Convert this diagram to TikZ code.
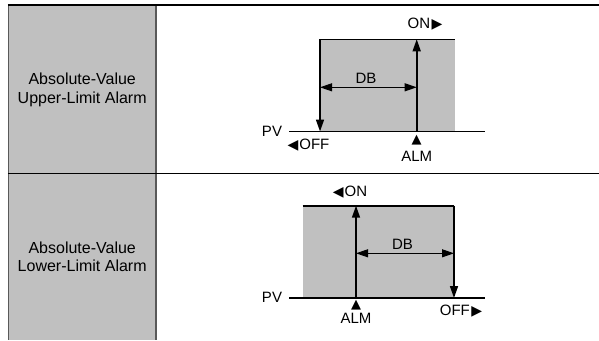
\documentclass[tikz,border=0pt]{standalone}
\usepackage{fontspec}
\setmainfont{Liberation Sans}
\newfontfamily\symf{DejaVu Sans}
\usetikzlibrary{arrows.meta}
\tikzset{
  lbl/.style={inner sep=0pt, font=\fontsize{15}{17}\selectfont},
  rowlbl/.style={inner sep=0pt, align=center, font=\fontsize{16}{18.6}\selectfont},
  tri/.style={inner sep=0pt, font=\symf\fontsize{13}{14}\selectfont},
  arr/.style={line width=1.6pt, -{Triangle[length=12pt,width=8pt]}},
  darr/.style={line width=1pt, {Triangle[length=12pt,width=8pt]}-{Triangle[length=12pt,width=8pt]}},
  pvline/.style={line width=1.6pt},
  tline/.style={line width=1.6pt, black},
}
\definecolor{cgray}{HTML}{C0C0C0}
\newcommand{\tr}{{\symf\fontsize{14}{15}\selectfont\char"25B6}}
\newcommand{\tl}{{\symf\fontsize{14}{15}\selectfont\char"25C0}}
\begin{document}
\begin{tikzpicture}[x=1pt,y=-1pt]
\useasboundingbox (0,0) rectangle (599,340);
% table
\fill[cgray] (8.5,5) rectangle (156,340);
\draw[line width=1.4pt, black!65] (8.5,5) -- (8.5,340);
\draw[line width=1.4pt, black!65] (156,5) -- (156,340);
\draw[tline] (7.8,5) -- (599,5);
\draw[tline] (7.8,173.5) -- (599,173.5);
\node[rowlbl] (r1) at (82.2,90) {Absolute-Value\\Upper-Limit Alarm};
\node[rowlbl] (r2) at (82.2,256.7) {Absolute-Value\\Lower-Limit Alarm};

% ---------- upper diagram ----------
\fill[cgray] (320,39.3) rectangle (455,131.5);
\coordinate (uTL) at (320,39.3);
\coordinate (uTR) at (455,39.3);
\coordinate (uBL) at (320,131.5);
\coordinate (uPVs) at (289,131.5);
\coordinate (uPVe) at (485,131.5);
\coordinate (uAb) at (416.7,131.5);
\coordinate (uAt) at (416.7,39.3);
\coordinate (uDBl) at (320,87.3);
\coordinate (uDBr) at (416.7,87.3);
\draw[tline] (uTL) -- (uTR);
\draw[pvline] (uPVs) -- (uPVe);
\draw[arr] (uAb) -- (uAt);
\draw[arr] (uTL) -- (uBL);
\draw[darr] (uDBl) -- (uDBr);
\node[lbl] (uDB) at (366,78) {DB};
\node[lbl] (uON) at (425,24) {ON\kern1.5pt\tr};
\node[lbl] (uOFF) at (308.5,145) {\tl\kern1pt OFF};
\node[lbl] (uPV) at (272,131) {PV};
\node[tri] (uTri) at (416.7,140) {\char"25B2};
\node[lbl] (uALM) at (416.7,156.5) {ALM};

% ---------- lower diagram ----------
\fill[cgray] (303.3,205.7) rectangle (454,298);
\coordinate (lTL) at (302.5,205.7);
\coordinate (lTR) at (454,205.7);
\coordinate (lBR) at (454,298);
\coordinate (lPVs) at (289,298);
\coordinate (lPVe) at (485,298);
\coordinate (lAb) at (356,298);
\coordinate (lAt) at (356,205.7);
\coordinate (lDBl) at (356,253.3);
\coordinate (lDBr) at (454,253.3);
\draw[tline] (lTL) -- (lTR);
\draw[pvline] (lPVs) -- (lPVe);
\draw[arr] (lAb) -- (lAt);
\draw[arr] (lTR) -- (lBR);
\draw[darr] (lDBl) -- (lDBr);
\node[lbl] (lDB) at (402.5,244) {DB};
\node[lbl] (lON) at (350,191.7) {\tl\kern1pt ON};
\node[lbl] (lOFF) at (461,310.7) {OFF\kern1.5pt\tr};
\node[lbl] (lPV) at (272,297) {PV};
\node[tri] (lTri) at (356,305.5) {\char"25B2};
\node[lbl] (lALM) at (356,318) {ALM};
\end{tikzpicture}
\end{document}
